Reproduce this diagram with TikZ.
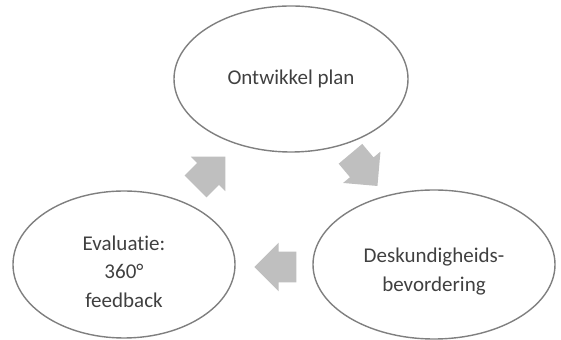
\documentclass[tikz,border=0pt]{standalone}
\usepackage{fontspec}
\setmainfont{Carlito}[Ligatures=NoCommon]
\usetikzlibrary{shapes.geometric,shapes.arrows}
\definecolor{linegray}{HTML}{7F7F7F}
\definecolor{arrowgray}{HTML}{BFBFBF}
\definecolor{textgray}{HTML}{404040}
\newcommand{\topstrut}{\rule{0pt}{14.5pt}}
\begin{document}
\begin{tikzpicture}[x=0.5pt,y=-0.5pt,
    main node/.style={ellipse,draw=linegray,line width=0.7pt,inner sep=0pt,
      text=textgray,align=center,font=\fontsize{10.5}{14.25}\selectfont},
    cycle arrow/.style={single arrow,fill=arrowgray,inner xsep=0pt,inner ysep=7.5pt,
      minimum height=21pt,single arrow head extend=4.5pt}]
  \useasboundingbox (0,0) rectangle (561,340);
  \node[main node,minimum width=117pt,minimum height=73pt] (plan) at (291,79) {Ontwikkel plan};
  \node[main node,minimum width=121pt,minimum height=74.5pt] (desk) at (434,264.5) {\topstrut Deskundigheids-\\bevordering};
  \node[main node,minimum width=111pt,minimum height=73.5pt] (eval) at (124,264.5) {\topstrut Evaluatie:\\360°\\feedback};
  \node[cycle arrow,rotate=-50] (a1) at (359,164) {};
  \node[cycle arrow,rotate=180] (a2) at (283,267) {};
  \node[cycle arrow,rotate=45] (a3) at (205,177) {};
\end{tikzpicture}
\end{document}
